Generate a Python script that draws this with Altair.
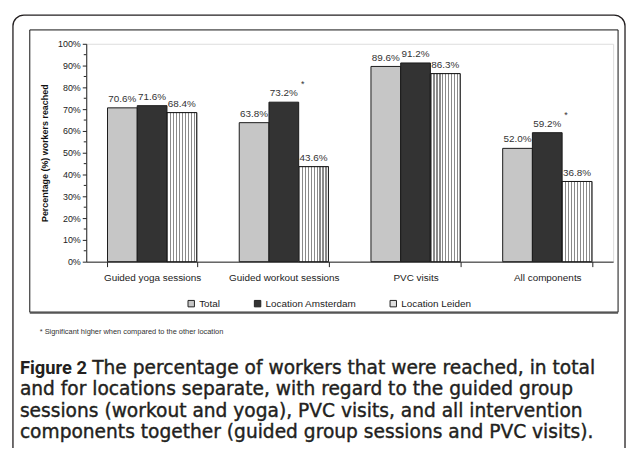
import altair as alt
import pandas as pd

categories = ["Guided yoga sessions", "Guided workout sessions", "PVC visits", "All components"]
series = ["Total", "Location Amsterdam", "Location Leiden"]
total = [70.6, 63.8, 89.6, 52.0]
amsterdam = [71.6, 73.2, 91.2, 59.2]
leiden = [68.4, 43.6, 86.3, 36.8]
significant = [("Guided workout sessions", "Location Amsterdam"), ("All components", "Location Amsterdam")]
major_ticks = list(range(0, 101, 10))
minor_ticks = [5, 15, 25, 35, 45, 55, 65, 75, 85, 95]

caption_bold = "Figure 2"
caption_first = "The percentage of workers that were reached, in total"
caption_rest = [
    "and for locations separate, with regard to the guided group",
    "sessions (workout and yoga), PVC visits, and all intervention",
    "components together (guided group sessions and PVC visits).",
]
footnote = "* Significant higher when compared to the other location"
y_title = "Percentage (%) workers reached"

rows = []
for i, c in enumerate(categories):
    for s, vals in zip(series, [total, amsterdam, leiden]):
        v = vals[i]
        rows.append({"category": c, "series": s, "value": v,
                     "label": f"{v:.1f}%",
                     "sig": "*" if (c, s) in significant else ""})
df = pd.DataFrame(rows)

FONT = "Liberation Sans"
colors = ["#c6c6c6", "#333333", "#dedede"]

xenc = alt.X("category:N", sort=categories, title=None,
             scale=alt.Scale(paddingInner=0.323, paddingOuter=0.1615),
             axis=alt.Axis(labelAngle=0, tickBand="extent", labelFontSize=10,
                           labelColor="#222", labelFont=FONT, labelPadding=6,
                           tickSize=5, domainColor="#222", tickColor="#222",
                           grid=False))
xoff = alt.XOffset("series:N", sort=series,
                   scale=alt.Scale(domain=series, paddingInner=0, paddingOuter=0))
yaxis = alt.Axis(values=major_ticks, labelExpr="datum.value + '%'",
                 labelFontSize=9, labelColor="#222", labelFont=FONT,
                 tickSize=4, domainColor="#222", tickColor="#222",
                 titleFont=FONT, titleFontSize=9, titleFontWeight="bold",
                 titleColor="#111", titlePadding=8, grid=False)
yenc = alt.Y("value:Q", title=y_title, scale=alt.Scale(domain=[0, 100]), axis=yaxis)

base = alt.Chart(df)

bars = base.mark_bar(stroke="#1a1a1a", strokeWidth=1).encode(
    x=xenc, xOffset=xoff, y=yenc,
    fill=alt.Fill("series:N", sort=series,
                  scale=alt.Scale(domain=series, range=colors),
                  legend=alt.Legend(title=None, orient="none", legendX=101, legendY=257,
                                    direction="horizontal", symbolType="square",
                                    symbolSize=42, symbolStrokeColor="#222",
                                    symbolStrokeWidth=1, labelFont=FONT,
                                    labelFontSize=10, labelColor="#222",
                                    columnPadding=31, labelOffset=3)),
)

stops = []
n = 10
for k in range(n):
    a = k / n
    b = a + 0.4 / n
    stops += [alt.GradientStop(offset=a, color="#ffffff"),
              alt.GradientStop(offset=a, color="#8a8a8a"),
              alt.GradientStop(offset=b, color="#8a8a8a"),
              alt.GradientStop(offset=b, color="#ffffff")]
stops.append(alt.GradientStop(offset=1, color="#ffffff"))
grad = alt.LinearGradient(gradient="linear", stops=stops, x1=0, x2=1, y1=0, y2=0)

leiden_bars = base.transform_filter(alt.datum.series == "Location Leiden").mark_bar(
    fill=grad, stroke="#1a1a1a", strokeWidth=1).encode(x=xenc, xOffset=xoff, y=yenc)

labels = base.mark_text(baseline="bottom", dy=-4, fontSize=10, font=FONT, color="#333").encode(
    x=xenc, xOffset=xoff, y=yenc, text="label:N")

stars = base.transform_filter(alt.datum.sig == "*").mark_text(
    baseline="bottom", dx=19, dy=-13, fontSize=9, font=FONT, color="#333").encode(
    x=xenc, xOffset=xoff, y=yenc, text="sig:N")

minor = alt.Chart(pd.DataFrame({"value": minor_ticks})).mark_rule(
    stroke="#222", strokeWidth=1).encode(
    y=yenc, x=alt.value(-2.5), x2=alt.value(0))

one = pd.DataFrame({"a": [0]})
outer = alt.Chart(one).mark_rect(fill="transparent", stroke="#231f20", strokeWidth=1.3,
                                 cornerRadius=11).encode(
    x=alt.value(-74), x2=alt.value(544), y=alt.value(-29), y2=alt.value(430))
inner = alt.Chart(one).mark_rect(fill="transparent", stroke="#111", strokeWidth=1).encode(
    x=alt.value(-57), x2=alt.value(537), y=alt.value(-14), y2=alt.value(271))
inner_shadow = alt.Chart(one).mark_rule(stroke="#555", strokeWidth=2).encode(
    x=alt.value(-57), x2=alt.value(537), y=alt.value(271.5))

foot = alt.Chart(one).mark_text(align="left", baseline="middle", fontSize=7.5, font=FONT,
                                color="#333").encode(
    x=alt.value(-47), y=alt.value(291), text=alt.value(footnote))

cap_font = "DejaVu Sans"
CAPC = "#231f20"
cap1 = alt.Chart(one).mark_text(align="left", baseline="alphabetic", fontSize=18.5, font="Roboto",
                                fontWeight="bold", color=CAPC).encode(
    x=alt.value(-67), y=alt.value(333), text=alt.value(caption_bold))
cap2 = alt.Chart(one).mark_text(align="left", baseline="alphabetic", fontSize=18.8, font=cap_font,
                                fontWeight="normal", color=CAPC, stroke=CAPC,
                                strokeWidth=0.4).encode(
    x=alt.value(6), y=alt.value(333), text=alt.value(caption_first))
cap3 = alt.Chart(one).mark_text(align="left", baseline="alphabetic", fontSize=18.8, font=cap_font,
                                fontWeight="normal", color=CAPC, stroke=CAPC,
                                strokeWidth=0.4, lineHeight=21.7).encode(
    x=alt.value(-67), y=alt.value(354.7), text=alt.value(caption_rest))

chart = alt.layer(outer, inner, inner_shadow, bars, leiden_bars, labels, stars, minor, foot,
                  cap1, cap2, cap3).properties(
    width=532, height=220,
    autosize=alt.AutoSizeParams(type="none"),
    padding={"left": 79, "top": 34, "right": 13, "bottom": 186},
).configure_view(stroke=None).configure(background="white")

chart.save("out.html", embed_options={"renderer": "svg", "actions": False})
